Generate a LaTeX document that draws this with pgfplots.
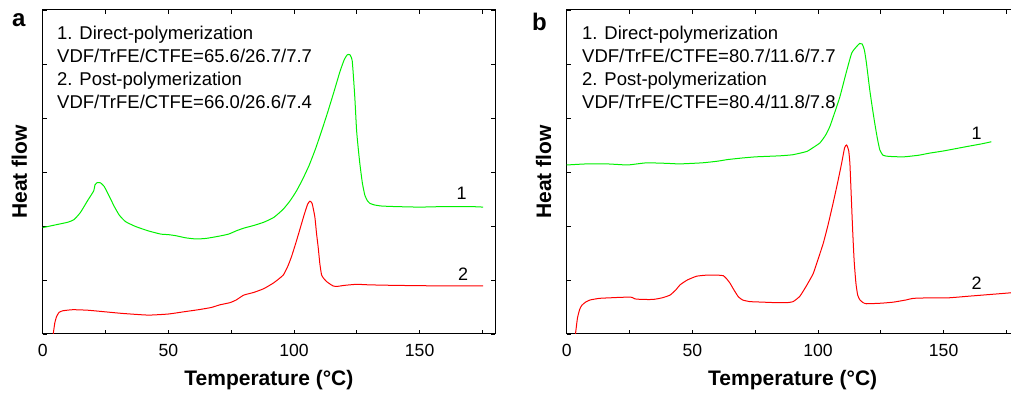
\documentclass[border=0pt]{standalone}
\usepackage{fontspec}
\setmainfont{Liberation Sans}
\usepackage{pgfplots}
\pgfplotsset{compat=1.18}
\definecolor{cgreen}{RGB}{0,240,0}
\definecolor{cred}{RGB}{255,0,0}
\pgfplotsset{dsc/.style={
  scale only axis, width=452.3pt, height=324pt,
  xmin=0, xmax=180, ymin=0, ymax=6,
  xtick={0,50,100,150}, minor xtick={25,75,125,175},
  ytick={0,1,2,3,4,5,6}, yticklabels={},
  major tick length=4pt, minor tick length=4pt,
  tick style={black, line width=0.8pt},
  axis line style={black, line width=1pt},
  xticklabel style={font=\fontsize{17.6}{20}\selectfont, anchor=base, yshift=-23pt},
  /pgf/number format/assume math mode=true,
  every axis plot/.append style={line width=1pt},
}}
\pgfplotstableread{
T y
0 1.97
5 2.02
10 2.07
12.5 2.12
15 2.25
18 2.48
20.3 2.65
20.8 2.76
21.5 2.80
23 2.80
24.5 2.73
26.5 2.55
28.5 2.36
30.5 2.20
33 2.08
37 1.99
42 1.91
47 1.85
50 1.84
53 1.82
57 1.78
61 1.76
65 1.77
70 1.81
74 1.85
77 1.91
80 1.96
84 2.01
88 2.07
92 2.16
95.7 2.31
98.5 2.47
101 2.65
103.5 2.87
106 3.12
108.5 3.42
111 3.76
113.5 4.12
116 4.50
118.3 4.86
120 5.08
121.2 5.17
122.3 5.17
123.2 5.05
124.2 4.39
124.9 3.78
125.5 3.47
126.2 3.16
127.2 2.80
128.2 2.57
129.2 2.47
130.2 2.42
132 2.39
134.8 2.37
140 2.36
150 2.35
160 2.36
170 2.36
175.3 2.35
}\greenA
\pgfplotstableread{
T y
3.5 -0.3
4.2 0.0
4.8 0.2
5.5 0.32
6.5 0.40
8 0.43
12 0.45
18 0.44
25 0.41
32 0.38
42 0.35
50 0.37
56 0.41
62 0.45
67 0.49
70.5 0.54
74.5 0.58
77 0.63
80 0.72
84 0.77
88 0.84
92 0.95
95.7 1.09
97.5 1.25
99 1.43
100.7 1.68
102.3 1.93
104 2.20
105.4 2.40
106.3 2.46
107.2 2.42
108.3 2.17
109 1.85
109.6 1.62
110.3 1.30
111 1.09
112 1.02
113 0.97
114.5 0.92
115.6 0.89
117 0.88
120 0.90
124.9 0.92
130 0.91
140.8 0.90
160 0.89
175.3 0.89
}\redA
\pgfplotstableread{
T y
0 3.13
8 3.15
16 3.15
24 3.13
28 3.15
32 3.17
40 3.16
45 3.15
54 3.17
60 3.20
64 3.23
70 3.26
75 3.28
80 3.29
85 3.30
90 3.32
95.5 3.38
98 3.45
100.8 3.54
103 3.68
104.7 3.84
106.5 4.08
108.7 4.39
111 4.80
113.4 5.20
115.5 5.33
116.6 5.38
117.6 5.37
118.5 5.25
119.3 5.01
120.6 4.52
121.6 4.20
122.6 3.90
123.6 3.63
124.6 3.41
125.9 3.31
128 3.29
133.9 3.28
140 3.31
144.5 3.35
150 3.39
159.1 3.47
165 3.52
169 3.56
}\greenB
\pgfplotstableread{
T y
3.0 -0.3
3.5 0.0
4.3 0.3
5.2 0.46
6 0.53
7.5 0.59
9.3 0.63
13 0.66
17.2 0.67
22 0.68
25.9 0.68
27.2 0.65
30 0.64
34.4 0.64
38 0.67
41.1 0.72
43.5 0.82
45.1 0.91
48 1.00
51.7 1.07
55.7 1.09
60 1.09
62.3 1.08
63.5 1.03
65 0.94
66.5 0.82
68.3 0.69
70 0.63
72.9 0.60
78 0.59
83.5 0.58
87.5 0.58
90.1 0.60
92.8 0.70
95.5 0.90
98.1 1.12
100 1.38
102.1 1.68
104 2.02
106 2.42
107.8 2.80
109.4 3.16
110.6 3.45
111.4 3.50
112.2 3.40
112.7 3.16
113.2 2.60
113.8 1.92
114.4 1.35
115.1 0.94
115.8 0.72
116.7 0.63
118 0.58
119.3 0.56
125 0.57
130 0.59
135 0.63
137.9 0.66
145 0.67
152 0.67
160 0.70
168 0.73
176 0.76
180 0.78
}\redB
\begin{document}
\begin{tikzpicture}
\begin{axis}[dsc, at={(42.7pt,61pt)}, anchor=south west]
\addplot[cgreen, smooth, tension=0.3] table[x=T,y=y] {\greenA};
\addplot[cred, smooth, tension=0.3] table[x=T,y=y] {\redA};
\end{axis}
\begin{axis}[dsc, at={(566.7pt,61pt)}, anchor=south west]
\addplot[cgreen, smooth, tension=0.3] table[x=T,y=y] {\greenB};
\addplot[cred, smooth, tension=0.3] table[x=T,y=y] {\redB};
\end{axis}
% panel letters
\node[anchor=base west, inner sep=0pt, font=\fontsize{24}{28}\bfseries\selectfont] at (12pt,368pt) {a};
\node[anchor=base west, inner sep=0pt, font=\fontsize{24}{28}\bfseries\selectfont] at (532pt,364pt) {b};
% axis labels
\foreach \cx/\lx in {268.9/27, 792.7/551} {
  \node[anchor=base, inner sep=0pt, font=\fontsize{21}{24}\bfseries\selectfont] at (\cx pt,9pt) {Temperature (°C)};
  \node[anchor=base, rotate=90, inner sep=0pt, font=\fontsize{21}{24}\bfseries\selectfont] at (\lx pt,223pt) {Heat flow};
}
% annotations
\begin{scope}[every node/.style={anchor=base west, inner sep=0pt, font=\fontsize{18.5}{22}\selectfont}]
\node at (57pt,355.7pt) {1. Direct-polymerization};
\node at (57pt,332.3pt) {VDF/TrFE/CTFE=65.6/26.7/7.7};
\node at (57pt,309pt) {2. Post-polymerization};
\node at (57pt,286.7pt) {VDF/TrFE/CTFE=66.0/26.6/7.4};
\node at (582pt,355.7pt) {1. Direct-polymerization};
\node at (582pt,332.3pt) {VDF/TrFE/CTFE=80.7/11.6/7.7};
\node at (582pt,309pt) {2. Post-polymerization};
\node at (582pt,286.7pt) {VDF/TrFE/CTFE=80.4/11.8/7.8};
\end{scope}
\begin{scope}[every node/.style={anchor=center, inner sep=0pt, font=\fontsize{18}{21}\selectfont}]
\node at (461.7pt,202pt) {1};
\node at (463pt,121pt) {2};
\node at (976.7pt,262pt) {1};
\node at (976.7pt,112pt) {2};
\end{scope}
\pgfresetboundingbox
\useasboundingbox (0,0) rectangle (1011pt,395pt);
\end{tikzpicture}
\end{document}
